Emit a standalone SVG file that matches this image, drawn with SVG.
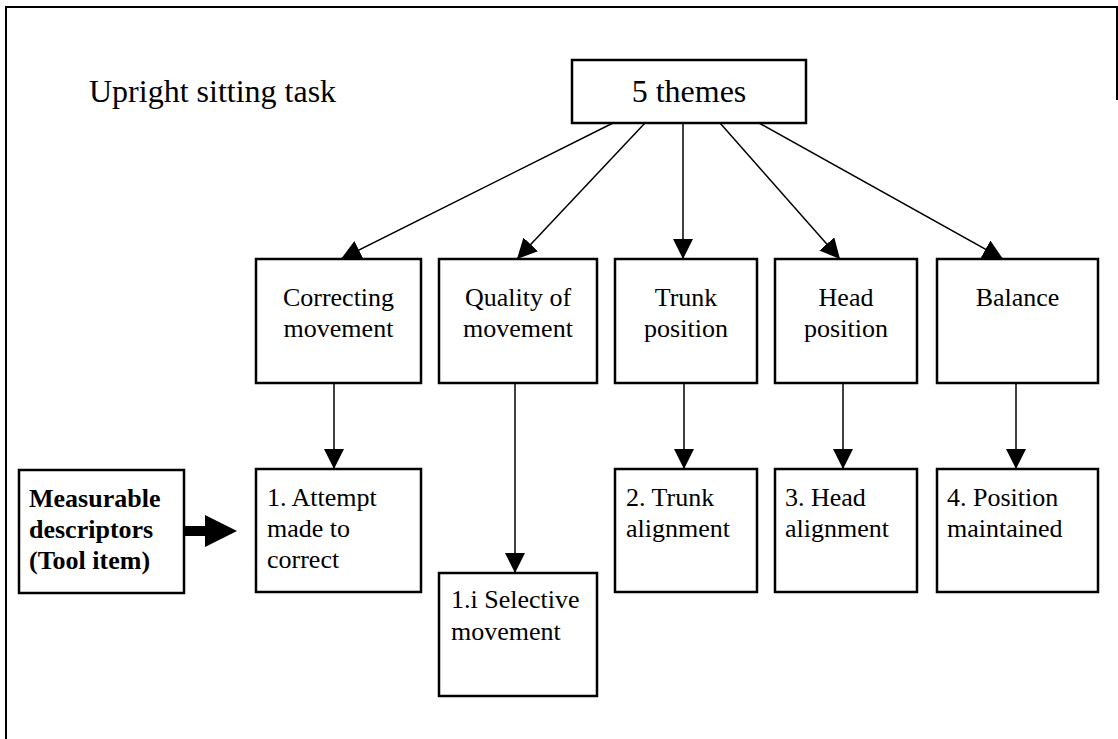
<svg xmlns="http://www.w3.org/2000/svg" width="1118" height="739" viewBox="0 0 1118 739">
  <style>
    .box { fill: #fff; stroke: #000; stroke-width: 2.5; }
    .frame { fill: none; stroke: #000; stroke-width: 2; }
    .conn { fill: none; stroke: #000; stroke-width: 1.5; marker-end: url(#head); }
    text { font-family: "Liberation Serif", "Times New Roman", serif; fill: #000; }
    .t { font-size: 26px; }
    .c { text-anchor: middle; }
    .big { font-size: 32px; }
    .b { font-weight: bold; }
  </style>
  <defs>
    <marker id="head" viewBox="0 0 20 20" refX="20" refY="10" markerWidth="20" markerHeight="20" markerUnits="userSpaceOnUse" orient="auto">
      <path d="M0,0 L20,10 L0,20 z" fill="#000"/>
    </marker>
  </defs>

  <rect width="1118" height="739" fill="#fff"/>

  <!-- outer frame -->
  <path class="frame" d="M6,739 L6,7 L1117,7 L1117,100"/>

  <text class="big" x="89" y="102">Upright sitting task</text>

  <g id="themes">
    <rect class="box" x="572" y="60" width="234" height="63"/>
    <text class="big c" x="689" y="102">5 themes</text>
  </g>

  <g id="correcting">
    <rect class="box" x="256" y="259" width="165" height="124"/>
    <text class="t c" x="338.5" y="306">Correcting</text>
    <text class="t c" x="338.5" y="337">movement</text>
  </g>
  <g id="quality">
    <rect class="box" x="439" y="259" width="158" height="124"/>
    <text class="t c" x="518" y="306">Quality of</text>
    <text class="t c" x="518" y="337">movement</text>
  </g>
  <g id="trunk">
    <rect class="box" x="615" y="259" width="142" height="124"/>
    <text class="t c" x="686" y="306">Trunk</text>
    <text class="t c" x="686" y="337">position</text>
  </g>
  <g id="head-pos">
    <rect class="box" x="775" y="259" width="142" height="124"/>
    <text class="t c" x="846" y="306">Head</text>
    <text class="t c" x="846" y="337">position</text>
  </g>
  <g id="balance">
    <rect class="box" x="937" y="259" width="161" height="124"/>
    <text class="t c" x="1017.5" y="306">Balance</text>
  </g>

  <g id="descriptors">
    <rect class="box" x="19" y="470" width="165" height="123"/>
    <text class="t b" x="29" y="507">Measurable</text>
    <text class="t b" x="29" y="538">descriptors</text>
    <text class="t b" x="29" y="569">(Tool item)</text>
  </g>
  <g id="attempt">
    <rect class="box" x="256" y="469" width="165" height="123"/>
    <text class="t" x="267" y="506">1. Attempt</text>
    <text class="t" x="267" y="537">made to</text>
    <text class="t" x="267" y="568">correct</text>
  </g>
  <g id="selective">
    <rect class="box" x="439" y="573" width="158" height="123"/>
    <text class="t" x="451" y="608">1.i Selective</text>
    <text class="t" x="451" y="640">movement</text>
  </g>
  <g id="trunk-align">
    <rect class="box" x="615" y="469" width="142" height="123"/>
    <text class="t" x="626" y="506">2. Trunk</text>
    <text class="t" x="626" y="537">alignment</text>
  </g>
  <g id="head-align">
    <rect class="box" x="775" y="469" width="142" height="123"/>
    <text class="t" x="785" y="506">3. Head</text>
    <text class="t" x="785" y="537">alignment</text>
  </g>
  <g id="position">
    <rect class="box" x="937" y="469" width="161" height="123"/>
    <text class="t" x="947" y="506">4. Position</text>
    <text class="t" x="947" y="537">maintained</text>
  </g>

  <g id="connectors">
    <path class="conn" d="M613,123 L341,259"/>
    <path class="conn" d="M645,123 L517,259"/>
    <path class="conn" d="M683,123 L683,259"/>
    <path class="conn" d="M720,123 L840,259"/>
    <path class="conn" d="M759,123 L1003,259"/>
    <path class="conn" d="M334,383 L334,469"/>
    <path class="conn" d="M515,383 L515,573"/>
    <path class="conn" d="M684,383 L684,469"/>
    <path class="conn" d="M843,383 L843,469"/>
    <path class="conn" d="M1016,383 L1016,469"/>
    <!-- block arrow from descriptors to first item -->
    <path d="M184,526 L205,526 L205,515 L237,531 L205,547 L205,536 L184,536 z" fill="#000"/>
  </g>
</svg>
